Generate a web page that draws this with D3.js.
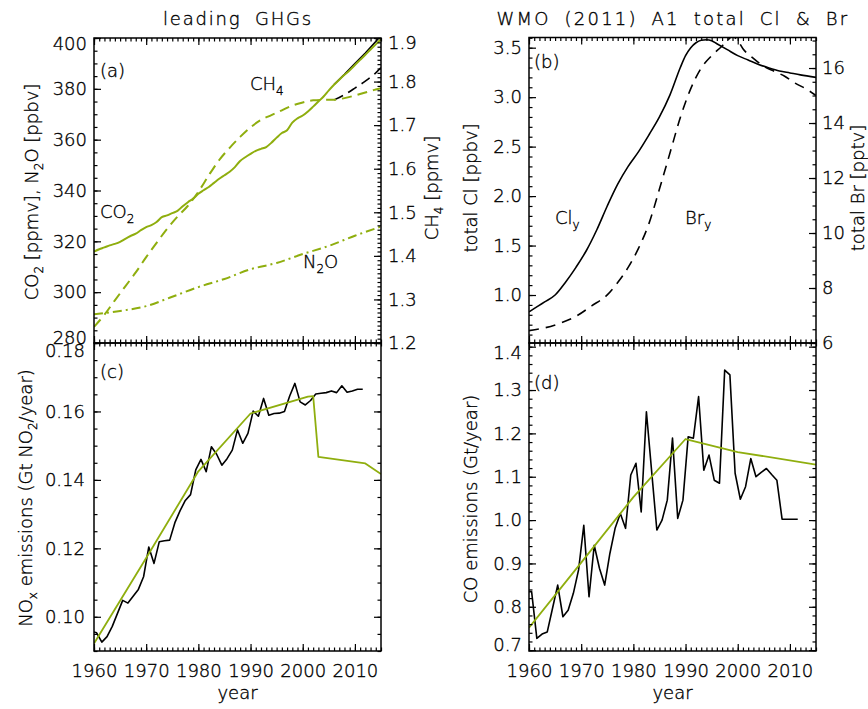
<!DOCTYPE html>
<html><head><meta charset="utf-8">
<script src="https://cdn.jsdelivr.net/npm/d3@7"></script>
<style>
body{margin:0;background:#fff}
svg text{font-family:"DejaVu Sans",sans-serif;font-weight:200;fill:#000;stroke:#000;stroke-width:0.35px}
</style></head><body>
<svg id="chart" width="868" height="709"></svg>
<script>
// ---------------- data ----------------
const titles = ["leading GHGs", "WMO (2011) A1 total Cl & Br"];
const xMajor = [1960, 1970, 1980, 1990, 2000, 2010];
const co2Model = [[1960,316.0],[1961,316.9],[1962,317.6],[1963,318.4],[1964,319.0],[1965,319.8],[1966,321.0],[1967,322.1],[1968,323.0],[1969,324.4],[1970,325.6],[1971,326.4],[1972,327.6],[1973,329.5],[1974,330.2],[1975,331.1],[1976,332.0],[1977,333.8],[1978,335.4],[1979,336.8],[1980,338.7],[1981,340.1],[1982,341.4],[1983,343.0],[1984,344.6],[1985,346.0],[1986,347.4],[1987,349.2],[1988,351.6],[1989,353.1],[1990,354.4],[1991,355.6],[1992,356.4],[1993,357.1],[1994,358.8],[1995,360.8],[1996,362.6],[1997,363.7],[1998,366.7],[1999,368.4],[2000,369.5],[2001,371.1],[2002,373.0],[2003,375.0],[2004,377.0],[2005,379.4],[2006,381.6],[2007,383.6],[2008,385.5],[2009,387.3],[2010,389.4],[2011,391.4],[2012,393.4],[2013,395.5],[2014,397.5],[2015,399.5]];
const co2Obs = [[2006,381.7],[2008,385.7],[2010,389.9],[2012,394.1],[2014,398.6],[2015,401.0]];
const ch4Model = [[1960,1.237],[1962,1.265],[1964,1.298],[1966,1.330],[1968,1.362],[1970,1.397],[1972,1.430],[1974,1.462],[1976,1.490],[1978,1.515],[1980,1.547],[1982,1.585],[1984,1.620],[1986,1.648],[1988,1.673],[1990,1.695],[1992,1.712],[1994,1.723],[1996,1.734],[1998,1.745],[2000,1.752],[2002,1.757],[2004,1.758],[2006,1.758],[2008,1.762],[2010,1.768],[2012,1.775],[2014,1.782],[2015,1.785]];
const ch4Obs = [[2006,1.758],[2008,1.770],[2010,1.785],[2012,1.801],[2014,1.820],[2015,1.832]];
const n2oModel = [[1960,291.3],[1965,292.6],[1970,294.5],[1975,298.2],[1980,302.0],[1985,305.2],[1990,309.0],[1995,311.5],[2000,315.0],[2005,318.2],[2010,322.2],[2015,325.8]];
const clTotal = [[1960,0.83],[1963,0.93],[1965,1.0],[1967,1.13],[1969,1.28],[1971,1.45],[1973,1.66],[1975,1.9],[1977,2.12],[1979,2.3],[1981,2.45],[1983,2.62],[1985,2.8],[1987,3.02],[1989,3.3],[1990,3.42],[1991,3.5],[1992,3.55],[1993,3.575],[1994,3.58],[1995,3.57],[1996,3.54],[1998,3.48],[2000,3.42],[2002,3.375],[2004,3.33],[2006,3.295],[2008,3.265],[2010,3.245],[2012,3.225],[2015,3.2]];
const brTotal = [[1960,6.45],[1963,6.55],[1966,6.72],[1969,6.97],[1972,7.35],[1975,7.75],[1977,8.2],[1979,8.75],[1981,9.45],[1983,10.35],[1985,11.6],[1987,12.9],[1989,14.2],[1991,15.25],[1993,16.0],[1995,16.45],[1997,16.8],[1998,17.0],[1999,17.15],[2000,17.0],[2001,16.7],[2003,16.35],[2005,16.06],[2007,15.88],[2009,15.7],[2011,15.45],[2013,15.25],[2015,15.0]];
const noxYears = d3.range(1959, 2012);
const noxObs = [0.0958,0.0953,0.0926,0.0942,0.0972,0.1010,0.1048,0.1040,0.1060,0.1080,0.1117,0.1204,0.1156,0.1219,0.1222,0.1224,0.1275,0.1310,0.1340,0.1357,0.1429,0.1460,0.1424,0.1497,0.1475,0.1443,0.1462,0.1487,0.1546,0.1507,0.1536,0.1601,0.1586,0.1638,0.1589,0.1594,0.1595,0.1600,0.1645,0.1682,0.1628,0.1619,0.1632,0.1651,0.1653,0.1655,0.1660,0.1655,0.1675,0.1656,0.1660,0.1665,0.1665];
const noxModel = [[1960,0.0922],[1970,0.1172],[1980,0.1425],[1990,0.1594],[2001,0.1643],[2002,0.1645],[2003,0.1467],[2012,0.1448],[2015,0.1417]];
const coYears = d3.range(1959, 2012);
const coObs = [0.835,0.835,0.727,0.737,0.742,0.796,0.850,0.777,0.792,0.831,0.885,0.988,0.823,0.942,0.889,0.850,0.923,0.981,1.015,0.981,1.104,1.131,1.019,1.250,1.113,0.977,1.000,1.046,1.189,1.004,1.046,1.192,1.189,1.285,1.115,1.150,1.092,1.085,1.346,1.335,1.108,1.048,1.077,1.142,1.100,1.110,1.119,1.105,1.092,1.002,1.002,1.002,1.002];
const coModel = [[1960,0.752],[1970,0.902],[1980,1.053],[1990,1.187],[2000,1.157],[2015,1.128]];

// ---------------- setup ----------------
const GREEN = "#8fae0e";
const svg = d3.select("#chart");
const FS = 18;
const L = {ax0:94, ax1:381, bx0:529, bx1:816, top:37.5, mid:343, bot:651};

const xA = d3.scaleLinear([1960, 2015], [L.ax0, L.ax1]);
const xB = d3.scaleLinear([1960, 2015], [L.bx0, L.bx1]);
const yA = d3.scaleLinear([280, 400], [L.mid, 38]);
const yCH4 = d3.scaleLinear([1.2, 1.9], [L.mid, 38]);
const yCl = d3.scaleLinear([0.515, 3.603], [L.mid, L.top]);
const yBr = d3.scaleLinear([6, 17.11], [L.mid, L.top]);
const yC = d3.scaleLinear([0.09, 0.18], [L.bot, L.mid]);
const yD = d3.scaleLinear([0.698, 1.4085], [L.bot, L.mid]);

const xMinor = d3.range(1960, 2016);

function clip(id, x0, x1, y0, y1) {
  svg.append("clipPath").attr("id", id).append("rect")
    .attr("x", x0).attr("y", y0).attr("width", x1 - x0).attr("height", y1 - y0);
  return svg.append("g").attr("clip-path", `url(#${id})`);
}

function axis(gen, scale, tr, major, minor, fmt, pad, nudge) {
  const gm = svg.append("g").attr("transform", tr)
    .call(gen(scale).tickValues(minor).tickSize(-3.5).tickFormat(""));
  const gM = svg.append("g").attr("transform", tr)
    .call(gen(scale).tickValues(major).tickSize(-7).tickPadding(pad || 0).tickFormat(fmt || ""));
  [gm, gM].forEach(g => {
    g.select(".domain").remove();
    g.attr("font-family", null).attr("font-size", FS);
    g.selectAll("line").attr("stroke", "#000").attr("stroke-width", 1.2);
  });
  if (nudge) gM.selectAll(".tick text").attr("transform", d => nudge[d] ? `translate(0,${nudge[d]})` : null);
}

function frame(x0, x1, y0, y1) {
  svg.append("rect").attr("x", x0).attr("y", y0).attr("width", x1 - x0).attr("height", y1 - y0)
    .attr("fill", "none").attr("stroke", "#000").attr("stroke-width", 1.5);
}

function rich(x, y, parts, rot, anchor) {
  const t = svg.append("text").attr("x", x).attr("y", y).attr("font-size", FS)
    .attr("text-anchor", anchor || "start");
  if (rot) t.attr("transform", `rotate(-90,${x},${y})`);
  let sub = false;
  parts.forEach(p => {
    const isSub = Array.isArray(p);
    const s = t.append("tspan").text(isSub ? p[0] : p);
    if (isSub && !sub) s.attr("dy", 5).attr("font-size", 12);
    else if (isSub) s.attr("font-size", 12);
    else if (sub) s.attr("dy", -5);
    sub = isSub;
  });
  return t;
}

function path(g, data, x, y, color, width, dash, curve) {
  g.append("path").datum(data)
    .attr("d", d3.line().x(d => x(d[0])).y(d => y(d[1])).curve(curve || d3.curveLinear))
    .attr("fill", "none").attr("stroke", color).attr("stroke-width", width)
    .attr("stroke-dasharray", dash || null).attr("stroke-linejoin", "round");
}

function title(x, text, ls) {
  svg.append("text").attr("x", x).attr("y", 25).attr("font-size", FS).attr("text-anchor", "middle")
    .style("letter-spacing", ls + "px").style("word-spacing", "6px").text(text);
}

// ---------------- panel a ----------------
{
  const g = clip("ca", L.ax0, L.ax1, 38, L.mid);
  path(g, co2Obs, xA, yA, "#000", 1.6);
  path(g, ch4Obs, xA, yCH4, "#000", 1.6, "10,6", d3.curveMonotoneX);
  path(g, co2Model, xA, yA, GREEN, 2, null, d3.curveMonotoneX);
  path(g, ch4Model, xA, yCH4, GREEN, 2, "10,6", d3.curveMonotoneX);
  path(g, n2oModel, xA, yA, GREEN, 2, "9,4,2,4", d3.curveMonotoneX);
  frame(L.ax0, L.ax1, 38, L.mid);
  axis(d3.axisLeft, yA, `translate(${L.ax0},0)`, d3.range(280, 401, 20), d3.range(280, 401, 5), d3.format("d"), 7, {400: 6, 280: -5});
  axis(d3.axisRight, yCH4, `translate(${L.ax1},0)`, d3.range(12, 20).map(v => v / 10), d3.range(120, 191).map(v => v / 100), d3.format(".1f"), 7, {1.9: 5});
  axis(d3.axisTop, xA, `translate(0,38)`, xMajor, xMinor);
  axis(d3.axisBottom, xA, `translate(0,${L.mid})`, xMajor, xMinor);
  svg.append("text").attr("x", 100).attr("y", 77).attr("font-size", FS).text("(a)");
  rich(250, 90, ["CH", ["4"]]);
  rich(100, 218, ["CO", ["2"]]);
  rich(303, 268, ["N", ["2"], "O"]);
  rich(38, 192, ["CO", ["2"], " [ppmv], N", ["2"], "O [ppbv]"], true, "middle");
  rich(438, 188, ["CH", ["4"], " [ppmv]"], true, "middle");
  title(238, titles[0], 1.8);
}

// ---------------- panel b ----------------
{
  const g = clip("cb", L.bx0, L.bx1, L.top, L.mid);
  path(g, clTotal, xB, yCl, "#000", 1.6, null, d3.curveMonotoneX);
  path(g, brTotal, xB, yBr, "#000", 1.6, "10,7", d3.curveMonotoneX);
  frame(L.bx0, L.bx1, L.top, L.mid);
  axis(d3.axisLeft, yCl, `translate(${L.bx0},0)`, [1.0, 1.5, 2.0, 2.5, 3.0, 3.5], d3.range(6, 37).map(v => v / 10), d3.format(".1f"), 7);
  axis(d3.axisRight, yBr, `translate(${L.bx1},0)`, [6, 8, 10, 12, 14, 16], d3.range(12, 35).map(v => v / 2), d3.format("d"), 6);
  axis(d3.axisTop, xB, `translate(0,${L.top})`, xMajor, xMinor);
  axis(d3.axisBottom, xB, `translate(0,${L.mid})`, xMajor, xMinor);
  svg.append("text").attr("x", 534).attr("y", 68).attr("font-size", FS).text("(b)");
  rich(555, 224, ["Cl", ["y"]]);
  rich(685, 224, ["Br", ["y"]]);
  rich(477, 188, ["total Cl [ppbv]"], true, "middle");
  rich(864, 188, ["total Br [pptv]"], true, "middle");
  title(673, titles[1], 2.2);
}

// ---------------- panel c ----------------
{
  const g = clip("cc", L.ax0, L.ax1, L.mid, L.bot);
  path(g, noxYears.map((y, i) => [y + 0.5, noxObs[i]]), xA, yC, "#000", 1.6);
  path(g, noxModel, xA, yC, GREEN, 1.8);
  frame(L.ax0, L.ax1, L.mid, L.bot);
  axis(d3.axisLeft, yC, `translate(${L.ax0},0)`, [0.10, 0.12, 0.14, 0.16, 0.18], d3.range(18, 37).map(v => v / 200), d3.format(".2f"), 9, {0.18: 8});
  axis(d3.axisRight, yC, `translate(${L.ax1},0)`, [0.10, 0.12, 0.14, 0.16, 0.18], d3.range(18, 37).map(v => v / 200));
  axis(d3.axisTop, xA, `translate(0,${L.mid})`, xMajor, xMinor);
  axis(d3.axisBottom, xA, `translate(0,${L.bot})`, xMajor, xMinor, d3.format("d"), 13);
  svg.append("text").attr("x", 100).attr("y", 378).attr("font-size", FS).text("(c)");
  rich(32, 498, ["NO", ["x"], " emissions (Gt NO", ["2"], "/year)"], true, "middle");
  svg.append("text").attr("x", (L.ax0 + L.ax1) / 2).attr("y", 699).attr("font-size", FS).attr("text-anchor", "middle").text("year");
}

// ---------------- panel d ----------------
{
  const g = clip("cd", L.bx0, L.bx1, L.mid, L.bot);
  path(g, coYears.map((y, i) => [y + 0.5, coObs[i]]), xB, yD, "#000", 1.6);
  path(g, coModel, xB, yD, GREEN, 1.8);
  frame(L.bx0, L.bx1, L.mid, L.bot);
  const dMaj = d3.range(7, 15).map(v => v / 10);
  axis(d3.axisLeft, yD, `translate(${L.bx0},0)`, dMaj, d3.range(35, 71).map(v => v / 50), d3.format(".1f"), 7, {1.4: 6, 0.7: -5});
  axis(d3.axisRight, yD, `translate(${L.bx1},0)`, dMaj, d3.range(35, 71).map(v => v / 50));
  axis(d3.axisTop, xB, `translate(0,${L.mid})`, xMajor, xMinor);
  axis(d3.axisBottom, xB, `translate(0,${L.bot})`, xMajor, xMinor, d3.format("d"), 13);
  svg.append("text").attr("x", 534).attr("y", 389).attr("font-size", FS).text("(d)");
  rich(477, 499, ["CO emissions (Gt/year)"], true, "middle");
  svg.append("text").attr("x", (L.bx0 + L.bx1) / 2).attr("y", 699).attr("font-size", FS).attr("text-anchor", "middle").text("year");
}
</script>
</body></html>
